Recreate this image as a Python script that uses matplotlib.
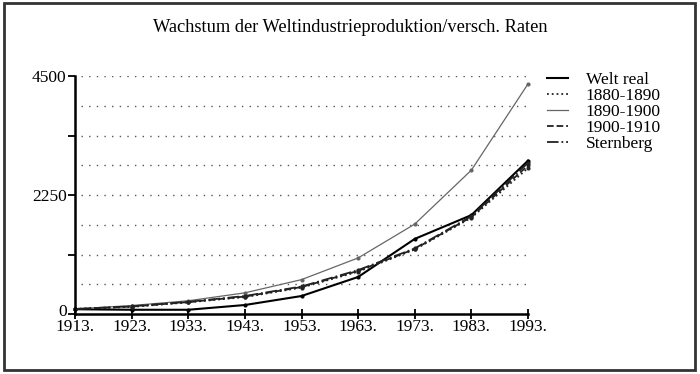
import numpy as np
import matplotlib.pyplot as plt
import matplotlib.transforms as mtransforms
from matplotlib.patches import Rectangle

plt.rcParams['font.family'] = ['Liberation Serif', 'DejaVu Serif']

# data
years = [1913, 1923, 1933, 1943, 1953, 1963, 1973, 1983, 1993]
year_labels = [str(y) + '.' for y in years]
welt_real = [90, 80, 80, 170, 340, 700, 1420, 1870, 2900]
r1880_1890 = [95, 135, 220, 320, 500, 800, 1220, 1820, 2760]
r1890_1900 = [95, 160, 250, 400, 650, 1060, 1700, 2720, 4350]
r1900_1910 = [95, 140, 225, 330, 510, 815, 1230, 1835, 2810]
sternberg = [95, 145, 230, 340, 520, 830, 1240, 1850, 2860]

fig = plt.figure(figsize=(7, 3.74), dpi=100)
ax = fig.add_axes([75/700, 60/374, (528-75)/700, (314-76)/374])

# frame round the whole picture
fig.patches.append(Rectangle((4/700, 4/374), 691/700, 367/374, transform=fig.transFigure,
                             fill=False, lw=2, edgecolor='#333333'))

# dotted grid
for g in np.arange(562.5, 4501, 562.5):
    ax.plot([1914, 1993], [g, g], color='#555555', lw=1, linestyle=(0, (1, 4.5)), zorder=1)

ax.plot(years, welt_real, '-', color='black', lw=1.5, marker='o', ms=2, label='Welt real', clip_on=False)
ax.plot(years, r1880_1890, ':', color='#222222', lw=1.3, marker='o', ms=2, label='1880-1890', clip_on=False)
ax.plot(years, r1890_1900, '-', color='#666666', lw=0.9, marker='o', ms=2, label='1890-1900', clip_on=False)
ax.plot(years, r1900_1910, '--', color='#222222', lw=1.3, marker='o', ms=2, label='1900-1910', clip_on=False)
ax.plot(years, sternberg, '-.', color='#222222', lw=1.3, marker='o', ms=2, label='Sternberg', clip_on=False)

ax.set_xlim(1913, 1993)
ax.set_ylim(0, 4500)
ax.set_xticks(years)
ax.set_xticklabels(year_labels, fontsize=12.5)
ax.set_yticks([0, 2250, 4500])
ax.set_yticklabels(['0', '2250', '4500'], fontsize=12.5)
ax.set_yticks([1125, 3375], minor=True)
ax.tick_params(axis='x', direction='inout', length=7, width=1.3, pad=0)
ax.tick_params(axis='y', which='both', direction='out', length=5, width=1.3, pad=1)
for s in ['top', 'right']:
    ax.spines[s].set_visible(False)
ax.spines['left'].set_linewidth(1.8)
ax.spines['bottom'].set_linewidth(1.8)
# lift the "0" a few pixels so it clears "1913."
lbl0 = ax.get_yticklabels()[0]
lbl0.set_transform(lbl0.get_transform() + mtransforms.ScaledTranslation(0, 4/100, fig.dpi_scale_trans))

fig.text(350/700, 1 - 27/374, 'Wachstum der Weltindustrieproduktion/versch. Raten',
         ha='center', va='center', fontsize=13.2)

ax.legend(loc='upper left', bbox_to_anchor=(538/700, 1 - 63/374), bbox_transform=fig.transFigure,
          frameon=False, fontsize=12.5, handlelength=1.25, handletextpad=1.0,
          labelspacing=0.0, borderpad=0, markerscale=0)

fig.savefig('out.png', dpi=100)
